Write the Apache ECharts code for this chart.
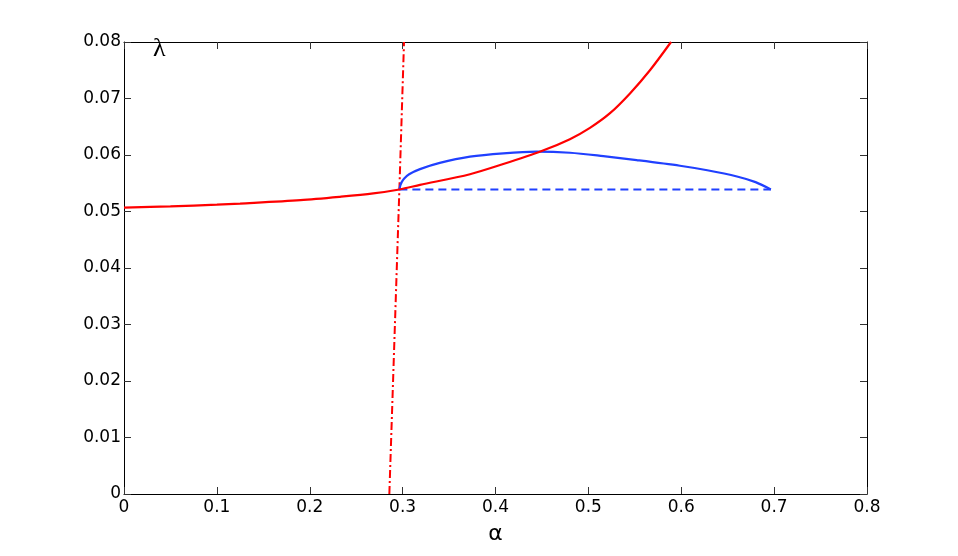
<!DOCTYPE html>
<html><head><meta charset="utf-8">
<script src="https://cdn.jsdelivr.net/npm/echarts@6/dist/echarts.min.js"></script>
<style>html,body{margin:0;padding:0;background:#fff}#c{width:958px;height:556px}</style>
</head><body><div id="c"></div>
<script>
// Red solid curve (alpha, lambda)
const redAlpha  = [0, 0.05, 0.1, 0.125, 0.19, 0.2326, 0.2684, 0.2965, 0.3187, 0.3725, 0.4084, 0.4497, 0.4801, 0.5017, 0.5233, 0.5448, 0.5663, 0.589];
const redLambda = [0.0507, 0.0509, 0.0512, 0.0514, 0.0520, 0.0526, 0.0532, 0.0539, 0.0547, 0.0566, 0.0584, 0.0607, 0.0628, 0.0648, 0.0674, 0.0709, 0.0750, 0.0800];
// Blue solid curve
const blueAlpha  = [0.2965, 0.2975, 0.299, 0.302, 0.307, 0.3187, 0.34, 0.3725, 0.4084, 0.4443, 0.4802, 0.5161, 0.552, 0.5986, 0.628, 0.66, 0.68, 0.6965];
const blueLambda = [0.0539, 0.0546, 0.0552, 0.0559, 0.0566, 0.0575, 0.0586, 0.0597, 0.0603, 0.0606, 0.0604, 0.0598, 0.0591, 0.0581, 0.0573, 0.0562, 0.0552, 0.0539];
// Blue dashed line
const dashAlpha  = [0.2965, 0.6965];
const dashLambda = [0.0539, 0.0539];
// Red dash-dot line
const ddAlpha  = [0.2857, 0.2965, 0.3015];
const ddLambda = [0, 0.0539, 0.0800];
// Ticks
const xTicks = [0, 0.1, 0.2, 0.3, 0.4, 0.5, 0.6, 0.7, 0.8];
const yTicks = [0, 0.01, 0.02, 0.03, 0.04, 0.05, 0.06, 0.07, 0.08];
const xName = 'α', yName = 'λ';

const zip = (a, b) => a.map((v, i) => [v, b[i]]);
const fmtX = v => { const t = xTicks.find(q => Math.abs(q - v) < 1e-9); return t === undefined ? '' : String(t); };
const fmtY = v => { const t = yTicks.find(q => Math.abs(q - v) < 1e-9); return t === undefined ? '' : String(t); };
const font = '"DejaVu Sans", sans-serif';
const axisCommon = {
  axisLine: {show: true, onZero: false, lineStyle: {color: '#000', width: 1}},
  axisTick: {show: true, inside: true, length: 7, lineStyle: {color: '#333', width: 1}},
  splitLine: {show: false}
};
const chart = echarts.init(document.getElementById('c'));
chart.setOption({
  animation: false,
  backgroundColor: '#fff',
  grid: {left: 124, right: 91, top: 42, bottom: 62, containLabel: false, outerBoundsMode: 'none'},
  xAxis: [
    Object.assign({type: 'value', min: 0, max: 0.8, interval: 0.1, position: 'bottom',
      name: xName, nameLocation: 'middle', nameGap: 29,
      nameTextStyle: {fontSize: 22, fontFamily: font, color: '#000'},
      axisLabel: {fontSize: 17, fontFamily: font, color: '#000', margin: 5, formatter: fmtX}}, axisCommon),
    Object.assign({type: 'value', min: 0, max: 0.8, interval: 0.1, position: 'top',
      axisLabel: {show: false}}, axisCommon)
  ],
  yAxis: [
    Object.assign({type: 'value', min: 0, max: 0.08, interval: 0.01, position: 'left',
      axisLabel: {fontSize: 17, fontFamily: font, color: '#000', margin: 3, formatter: fmtY}}, axisCommon),
    Object.assign({type: 'value', min: 0, max: 0.08, interval: 0.01, position: 'right',
      axisLabel: {show: false}}, axisCommon)
  ],
  graphic: [{type: 'text', left: 153, top: 36, style: {text: yName, fontSize: 26, fontFamily: '"Liberation Serif", serif', fill: '#000'}}],
  series: [
    {type: 'line', data: zip(ddAlpha, ddLambda), showSymbol: false, symbol: 'none',
      lineStyle: {color: '#ff0000', width: 2, type: [8, 3, 2, 3]}, z: 2},
    {type: 'line', data: zip(dashAlpha, dashLambda), showSymbol: false, symbol: 'none',
      lineStyle: {color: '#2040ff', width: 2, type: [8, 5]}, z: 3},
    {type: 'line', data: zip(blueAlpha, blueLambda), showSymbol: false, symbol: 'none', smooth: 0.3,
      lineStyle: {color: '#2040ff', width: 2.2}, z: 4},
    {type: 'line', data: zip(redAlpha, redLambda), showSymbol: false, symbol: 'none', smooth: 0.3,
      lineStyle: {color: '#ff0000', width: 2.2}, z: 5}
  ]
});
</script></body></html>
